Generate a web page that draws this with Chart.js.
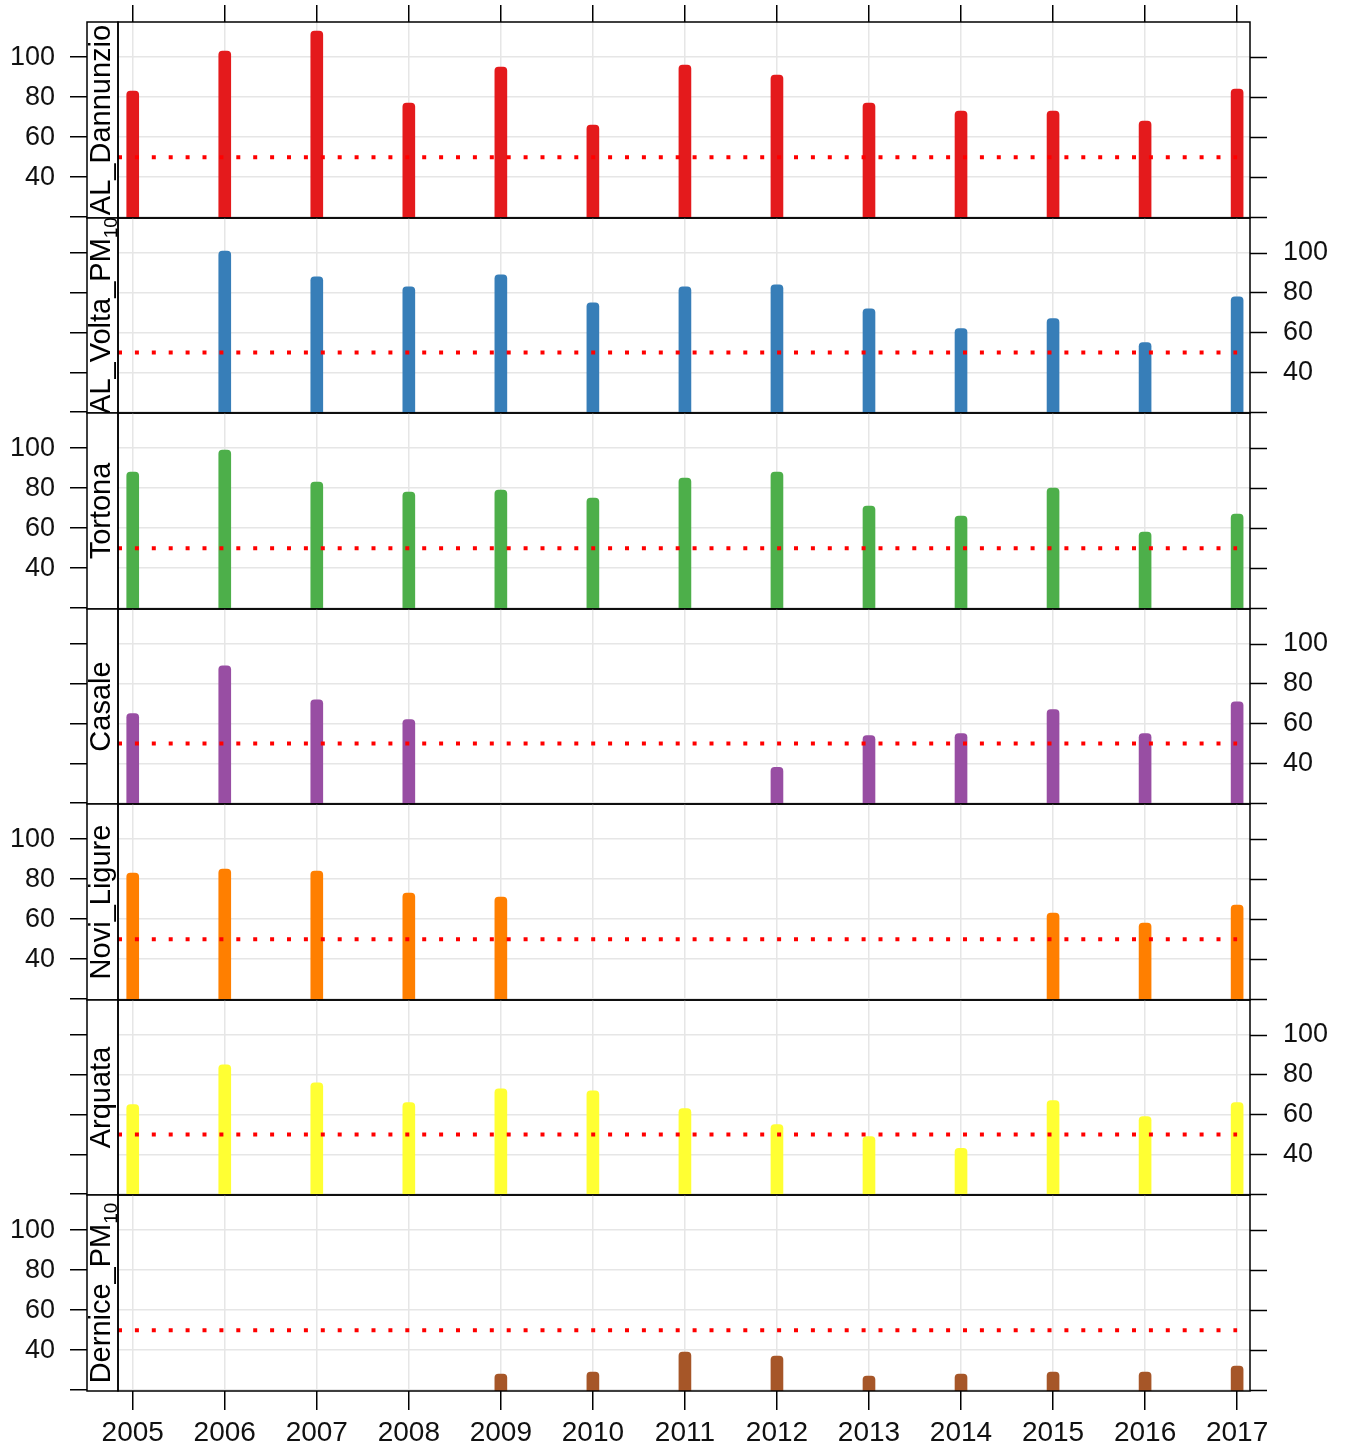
<!DOCTYPE html>
<html>
<head>
<meta charset="utf-8">
<script src="https://cdn.jsdelivr.net/npm/chart.js@4/dist/chart.umd.min.js"></script>
<style>
  body { margin: 0; background: #fff; }
  #wrap { position: relative; width: 1348px; height: 1449px; }
  #wrap canvas { position: absolute; left: 0; }
</style>
</head>
<body>
<div id="wrap"></div>
<script>
// dati
const anni = [2005, 2006, 2007, 2008, 2009, 2010, 2011, 2012, 2013, 2014, 2015, 2016, 2017];
const stazioni = ['AL_Dannunzio', 'AL_Volta_PM10', 'Tortona', 'Casale', 'Novi_Ligure', 'Arquata', 'Dernice_PM10'];
const colori = ['#E41A1C', '#377EB8', '#4DAF4A', '#984EA3', '#FF7F00', '#FFFF33', '#A65628'];

const valDannunzio = [83, 103, 113, 77, 95, 66, 96, 91, 77, 73, 73, 68, 84];
const valVolta = [null, 101, 88, 83, 89, 75, 83, 84, 72, 62, 67, 55, 78];
const valTortona = [88, 99, 83, 78, 79, 75, 85, 88, 71, 66, 80, 58, 67];
const valCasale = [65, 89, 72, 62, null, null, null, 38, 54, 55, 67, 55, 71];
const valNovi = [83, 85, 84, 73, 71, null, null, null, null, null, 63, 58, 67];
const valArquata = [65, 85, 76, 66, 73, 72, 63, 55, 49, 43, 67, 59, 66];
const valDernice = [null, null, null, null, 28, 29, 39, 37, 27, 28, 29, 29, 32];
const valori = [valDannunzio, valVolta, valTortona, valCasale, valNovi, valArquata, valDernice];

const limite = 50;
const tickY = [20, 40, 60, 80, 100];
const etichetteY = [40, 60, 80, 100];

// impaginazione
const bordi = [22, 218, 413, 609, 804, 1000, 1195, 1391];
const yMin = 19.6, yMax = 117.6;
const xMin = 2004.84, xMax = 2017.14;
const grigio = '#e6e6e6';
const testo = '#111';

Chart.defaults.font.family = '"Liberation Sans", Arial, sans-serif';
Chart.defaults.color = testo;

let wrap = document.getElementById('wrap');

// niente padding automatico per le etichette
function azzeraPadding(s) {
  s.paddingTop = 0;
  s.paddingBottom = 0;
  s.paddingLeft = 0;
  s.paddingRight = 0;
}

//striscia laterale e cornice del pannello
const striscia = {
  id: 'striscia',
  afterDraw(chart) {
    const ctx = chart.ctx;
    const a = chart.chartArea;
    const s = chart.scales.ys;
    const nome = chart.options.plugins.striscia.nome;
    ctx.save();
    ctx.beginPath();
    ctx.rect(s.left, a.top, s.right - s.left, a.bottom - a.top);
    ctx.fillStyle = '#fff';
    ctx.fill();
    ctx.clip();
    let main = nome, sub = '';
    if (nome.endsWith('_PM10')) { main = nome.slice(0, -2); sub = '10'; }
    ctx.font = '29px "Liberation Sans", Arial, sans-serif';
    const wMain = ctx.measureText(main).width;
    ctx.font = '19px "Liberation Sans", Arial, sans-serif';
    const wSub = sub ? ctx.measureText(sub).width : 0;
    const tot = wMain + wSub;
    ctx.translate(s.right - 8, (a.top + a.bottom) / 2);
    ctx.rotate(-Math.PI / 2);
    ctx.fillStyle = '#000';
    ctx.textBaseline = 'alphabetic';
    ctx.textAlign = 'left';
    ctx.font = '29px "Liberation Sans", Arial, sans-serif';
    ctx.fillText(main, -tot / 2, 0);
    if (sub) {
      ctx.font = '19px "Liberation Sans", Arial, sans-serif';
      ctx.fillText(sub, -tot / 2 + wMain, 7);
    }
    ctx.restore();

    ctx.save();
    ctx.strokeStyle = '#000';
    ctx.lineWidth = 1.5;
    ctx.strokeRect(s.left, a.top, s.right - s.left, a.bottom - a.top);
    ctx.strokeRect(a.left, a.top, a.right - a.left, a.bottom - a.top);
    ctx.restore();
  }
};

function creaPannello(i) {
  const primo = i === 0;
  const ultimo = i === stazioni.length - 1;
  const sinistra = i % 2 === 0;
  const sopra = primo ? 22 : 25;
  const sotto = ultimo ? 58 : 25;
  const top = bordi[i];
  const h = bordi[i + 1] - top;

  const c = document.createElement('canvas');
  c.width = 1348;
  c.height = sopra + h + sotto;
  c.style.top = (top - sopra) + 'px';
  wrap.appendChild(c);

  const punti = anni.map((a, k) => ({ x: a, y: valori[i][k] })).filter(p => p.y !== null);
  const fontY = { size: 27 };
  const etichetta = v => etichetteY.includes(v) ? String(v) : '';
  const soloTick = s => { s.ticks = tickY.map(v => ({ value: v })); };

  new Chart(c, {
    type: 'bar',
    data: {
      datasets: [{
        type: 'line',
        data: [{ x: xMin, y: limite }, { x: anni[anni.length - 1], y: limite }],
        borderColor: '#ff0000',
        borderWidth: 4,
        borderDash: [4, 12.9],
        borderCapStyle: 'butt',
        pointRadius: 0,
        yAxisID: 'y',
        order: 0
      }, {
        type: 'bar',
        data: punti,
        backgroundColor: colori[i],
        barThickness: 12,
        borderRadius: { topLeft: 4, topRight: 4 },
        borderSkipped: 'start',
        yAxisID: 'y',
        order: 1
      }]
    },
    options: {
      responsive: false,
      animation: false,
      events: [],
      layout: { padding: { top: primo ? 0 : 25, bottom: primo ? 25 : 0, left: 0, right: 0 } },
      plugins: {
        legend: { display: false },
        tooltip: { enabled: false },
        striscia: { nome: stazioni[i] }
      },
      scales: {
        x: {
          type: 'linear',
          min: xMin,
          max: xMax,
          offset: false,
          position: primo ? 'top' : 'bottom',
          afterBuildTicks: s => { s.ticks = anni.map(v => ({ value: v })); },
          afterFit: s => { s.height = primo ? sopra : sotto; azzeraPadding(s); },
          grid: {
            offset: false,
            color: grigio, lineWidth: 1.5,
            drawTicks: primo || ultimo, tickLength: primo ? 17 : 19,
            tickColor: '#000', tickWidth: 1.5
          },
          border: { display: false },
          ticks: {
            display: ultimo, padding: 6, autoSkip: false, maxRotation: 0,
            font: { size: 28 }, color: testo,
            callback: v => String(v)
          }
        },
        y: {
          type: 'linear',
          position: 'left',
          weight: 1,
          min: yMin,
          max: yMax,
          afterBuildTicks: soloTick,
          afterFit: s => { s.width = 87; azzeraPadding(s); },
          grid: { color: grigio, lineWidth: 1.5, tickLength: 17, tickColor: '#000', tickWidth: 1.5 },
          border: { display: false },
          ticks: { display: sinistra, padding: 15, font: fontY, color: testo, callback: etichetta }
        },
        ys: {
          type: 'linear',
          position: 'left',
          weight: 0,
          min: yMin,
          max: yMax,
          afterFit: s => { s.width = 31; azzeraPadding(s); },
          grid: { display: false },
          border: { display: false },
          ticks: { display: false }
        },
        yr: {
          type: 'linear',
          position: 'right',
          min: yMin,
          max: yMax,
          afterBuildTicks: soloTick,
          afterFit: s => { s.width = 1348 - 1250; azzeraPadding(s); },
          grid: { drawOnChartArea: false, tickLength: 17, tickColor: '#000', tickWidth: 1.5 },
          border: { display: false },
          ticks: { display: !sinistra, padding: 16, font: fontY, color: testo, callback: etichetta }
        }
      }
    },
    plugins: [striscia]
  });
}

for (let i = 0; i < stazioni.length; i++) {
  creaPannello(i);
}
</script>
</body>
</html>
